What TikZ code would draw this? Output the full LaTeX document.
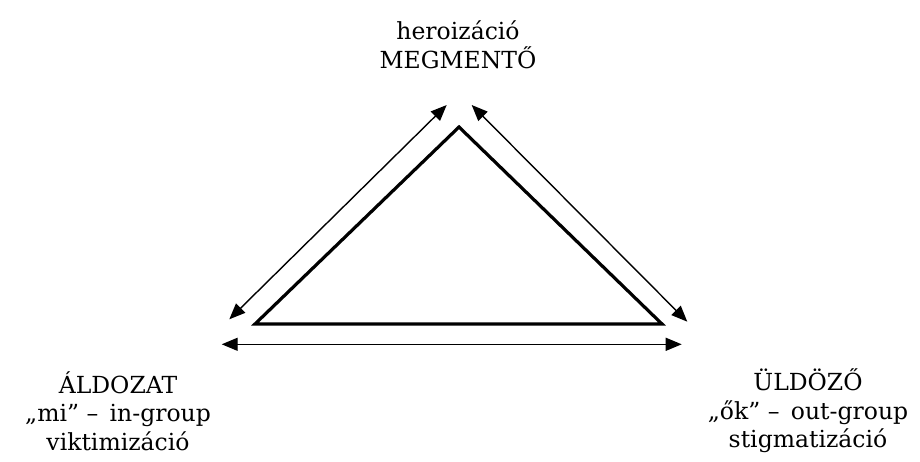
\documentclass[tikz,border=0pt]{standalone}
\usepackage{fontspec}
\setmainfont{DejaVu Serif}
\usetikzlibrary{arrows.meta}
\tikzset{
	role/.style={align=center, font=\fontsize{23.5}{28.5}\selectfont, inner sep=0pt},
	edge/.style={line width=3.2pt, line join=miter},
	link/.style={line width=1.4pt, {Triangle[length=16pt,width=13pt]}-{Triangle[length=16pt,width=13pt]}}
}
\begin{document}
\begin{tikzpicture}[x=1pt, yscale=-1, y=1pt]
\useasboundingbox (0,0) rectangle (920,462);
\node[role] (hero) at ( 458, 45 ) {heroizáció\\MEGMENTŐ};
\node[role] (victim) at ( 118, 411 ) {ÁLDOZAT\\„mi” –\, in-group\\viktimizáció};
\node[role] (pers) at ( 808, 411 ) {ÜLDÖZŐ\\„ők” –\, out-group\\stigmatizáció};
\coordinate (v0) at ( 459, 127 );
\coordinate (v1) at ( 255, 324 );
\coordinate (v2) at ( 662, 324 );
\coordinate (a0) at ( 446.7, 105 );
\coordinate (a1) at ( 229.3, 319.3 );
\coordinate (b0) at ( 471.7, 105 );
\coordinate (b1) at ( 687.3, 321.7 );
\coordinate (c0) at ( 221.7, 344.3 );
\coordinate (c1) at ( 681.7, 344.3 );
\draw[edge] (v0) -- (v1) -- (v2) -- cycle;
\draw[link] (a1) -- (a0);
\draw[link] (b0) -- (b1);
\draw[link] (c0) -- (c1);
\end{tikzpicture}
\end{document}
